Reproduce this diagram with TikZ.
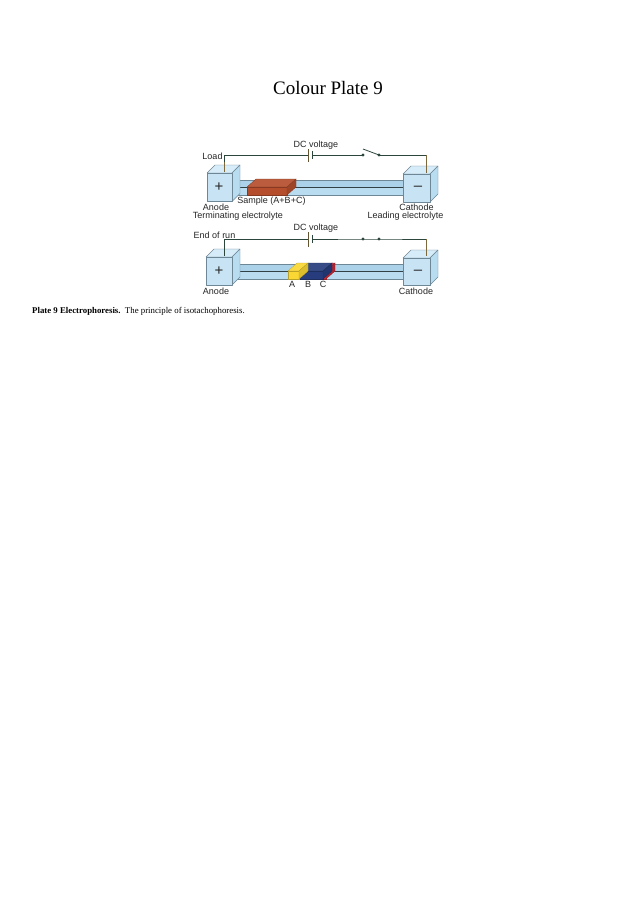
\documentclass[tikz,border=0pt]{standalone}
\usepackage{fontspec}
\setmainfont{Liberation Serif}
\newfontfamily\labelfont{Liberation Sans}
\definecolor{boxfront}{RGB}{200,228,244}
\definecolor{boxtop}{RGB}{214,236,248}
\definecolor{boxside}{RGB}{184,220,240}
\definecolor{tubefront}{RGB}{186,220,240}
\definecolor{tubetop}{RGB}{172,210,234}
\definecolor{edge}{RGB}{110,135,150}
\definecolor{darkedge}{RGB}{50,65,70}
\definecolor{wire}{RGB}{45,70,60}
\definecolor{wirebrown}{RGB}{125,105,60}
\definecolor{samplefront}{RGB}{180,78,44}
\definecolor{yellowfront}{RGB}{250,215,50}
\definecolor{bluefront}{RGB}{38,60,125}
\definecolor{redfront}{RGB}{205,40,50}
\tikzset{
  lab/.style={font=\labelfont\fontsize{9}{10}\selectfont,inner sep=0pt,text=black!85},
  faceedge/.style={draw=edge,line width=0.4pt,line join=round},
  wireline/.style={draw=wire,line width=0.8pt},
  brownline/.style={draw=wirebrown,line width=0.8pt},
  swdot/.style={circle,fill=wire,inner sep=0pt,minimum size=3.4pt},
  pole/.style={font=\labelfont\fontsize{15}{15}\selectfont,inner sep=0pt,text=black!85},
}
% #1 front left x, #2 front right x, #3 front top y, #4 front bottom y
\newcommand{\tankbox}[4]{
  \path[faceedge,fill=boxtop] (#1,#3) -- ++(8,-8) -- (#2+8,#3-8) -- (#2,#3) -- cycle;
  \path[faceedge,fill=boxside] (#2,#3) -- (#2+8,#3-8) -- (#2+8,#4-8) -- (#2,#4) -- cycle;
  \path[faceedge,fill=boxfront] (#1,#3) rectangle (#2,#4);
}
% #1 left, #2 right, #3 front top y, #4 front bottom y
\newcommand{\tubebody}[4]{
  \path[fill=tubetop] (#1,#3) -- ++(8,-7) -- (#2+8,#3-7) -- (#2,#3) -- cycle;
  \path[fill=tubefront] (#1,#3) rectangle (#2,#4);
  \draw[faceedge] (#1+8,#3-7) -- (#2+8,#3-7);
  \draw[draw=darkedge,line width=0.5pt] (#1,#3) -- (#2,#3);
  \draw[faceedge] (#1,#4) -- (#2,#4);
  \draw[faceedge] (#1,#3) -- (#1+8,#3-7);
  \draw[faceedge] (#1,#4) -- (#1+8,#4-8);
  \draw[draw=darkedge,line width=0.5pt] (#1,#3) -- (#1,#4);
}
% #1 left, #2 right, #3 top, #4 bottom, #5 colour
\newcommand{\band}[5]{
  \path[draw=#5!75!black,line width=0.3pt,fill=#5!92!white] (#1,#3) -- ++(9,-8) -- (#2+9,#3-8) -- (#2,#3) -- cycle;
  \path[draw=#5!75!black,line width=0.3pt,fill=#5] (#1,#3) rectangle (#2,#4);
  \path[draw=#5!75!black,line width=0.3pt,fill=#5!88!black] (#2,#3) -- (#2+9,#3-8) -- (#2+9,#4-8) -- (#2,#4) -- cycle;
}
\begin{document}
\begin{tikzpicture}[x=1pt,y=-1pt]
\useasboundingbox[fill=white] (0,0) rectangle (636,900);
\node[inner sep=0pt,font=\fontsize{19}{22}\selectfont] (title) at (328,88) {Colour Plate 9};

% ---------- upper apparatus
\tubebody{232}{403}{187}{195}
\band{247}{287}{187}{195}{samplefront}
\tankbox{207}{232}{173}{201.5}
\tankbox{403}{430}{174}{202}
\node[pole] (plusA) at (219,187) {+};
\node[pole] (minusA) at (418,188) {–};
\coordinate (anodeTopA) at (224,172);
\coordinate (cornerLA) at (224,155);
\coordinate (cathTopA) at (426,173);
\coordinate (cornerRA) at (426,155);
\coordinate (batLA) at (308,155);
\coordinate (batRA) at (312,155);
\node[swdot] (sw1A) at (363,155) {};
\node[swdot] (sw2A) at (379,155) {};
\coordinate (leverA) at (363,149);
\draw[brownline] (anodeTopA) -- (224,162);
\draw[wireline] (224,162) -- (cornerLA) -- (batLA);
\draw[wireline] (batRA) -- (sw1A.center);
\draw[wireline] (leverA) -- (sw2A.center);
\draw[wireline] (sw2A.center) -- (cornerRA);
\draw[brownline] (cornerRA) -- (cathTopA);
\draw[draw=wirebrown!80!black,line width=0.9pt] (308,149) -- (308,162);
\draw[draw=wire,line width=0.9pt] (312,151) -- (312,159);
\node[lab] (load) at (212.5,156) {Load};
\node[lab] (dcA) at (316,145) {DC voltage};
\node[lab] (sampleL) at (271.5,201.5) {Sample (A+B+C)};
\node[lab] (anodeA) at (216,207.5) {Anode};
\node[lab] (termL) at (238,216.5) {Terminating electrolyte};
\node[lab] (cathA) at (416.5,207.5) {Cathode};
\node[lab] (leadL) at (405.5,216.5) {Leading electrolyte};

% ---------- lower apparatus
\tubebody{232}{403}{271}{279}
\band{323}{326}{271}{279}{redfront}
\band{299}{323}{271}{279}{bluefront}
\band{288}{299}{271}{279}{yellowfront}
\tankbox{206}{232}{257}{285}
\tankbox{403}{430}{258}{285}
\node[pole] (plusB) at (219,271) {+};
\node[pole] (minusB) at (418,272) {–};
\coordinate (anodeTopB) at (224,256);
\coordinate (cornerLB) at (224,239);
\coordinate (cathTopB) at (426,256);
\coordinate (cornerRB) at (426,239);
\coordinate (batLB) at (308,239);
\coordinate (batRB) at (312,239);
\node[swdot] (sw1B) at (363,239) {};
\node[swdot] (sw2B) at (379,239) {};
\draw[wireline] (anodeTopB) -- (cornerLB) -- (batLB);
\draw[wireline] (batRB) -- (sw1B.center) -- (sw2B.center) -- (cornerRB);
\draw[brownline] (cornerRB) -- (cathTopB);
\draw[draw=wirebrown!80!black,line width=0.9pt] (308,232) -- (308,247);
\draw[draw=wire,line width=0.9pt] (312,235) -- (312,243);
\node[lab] (endrun) at (214.5,235) {End of run};
\node[lab] (dcB) at (316,228) {DC voltage};
\node[lab] (anodeB) at (216,291.5) {Anode};
\node[lab] (aL) at (292,284.5) {A};
\node[lab] (bL) at (308,284.5) {B};
\node[lab] (cL) at (323,284.5) {C};
\node[lab] (cathB) at (416,291.5) {Cathode};

\node[anchor=west,inner sep=0pt,font=\fontsize{8.8}{10}\selectfont] (caption) at (32,311) {\textbf{Plate 9 Electrophoresis.}\ \ The principle of isotachophoresis.};
\end{tikzpicture}
\end{document}
